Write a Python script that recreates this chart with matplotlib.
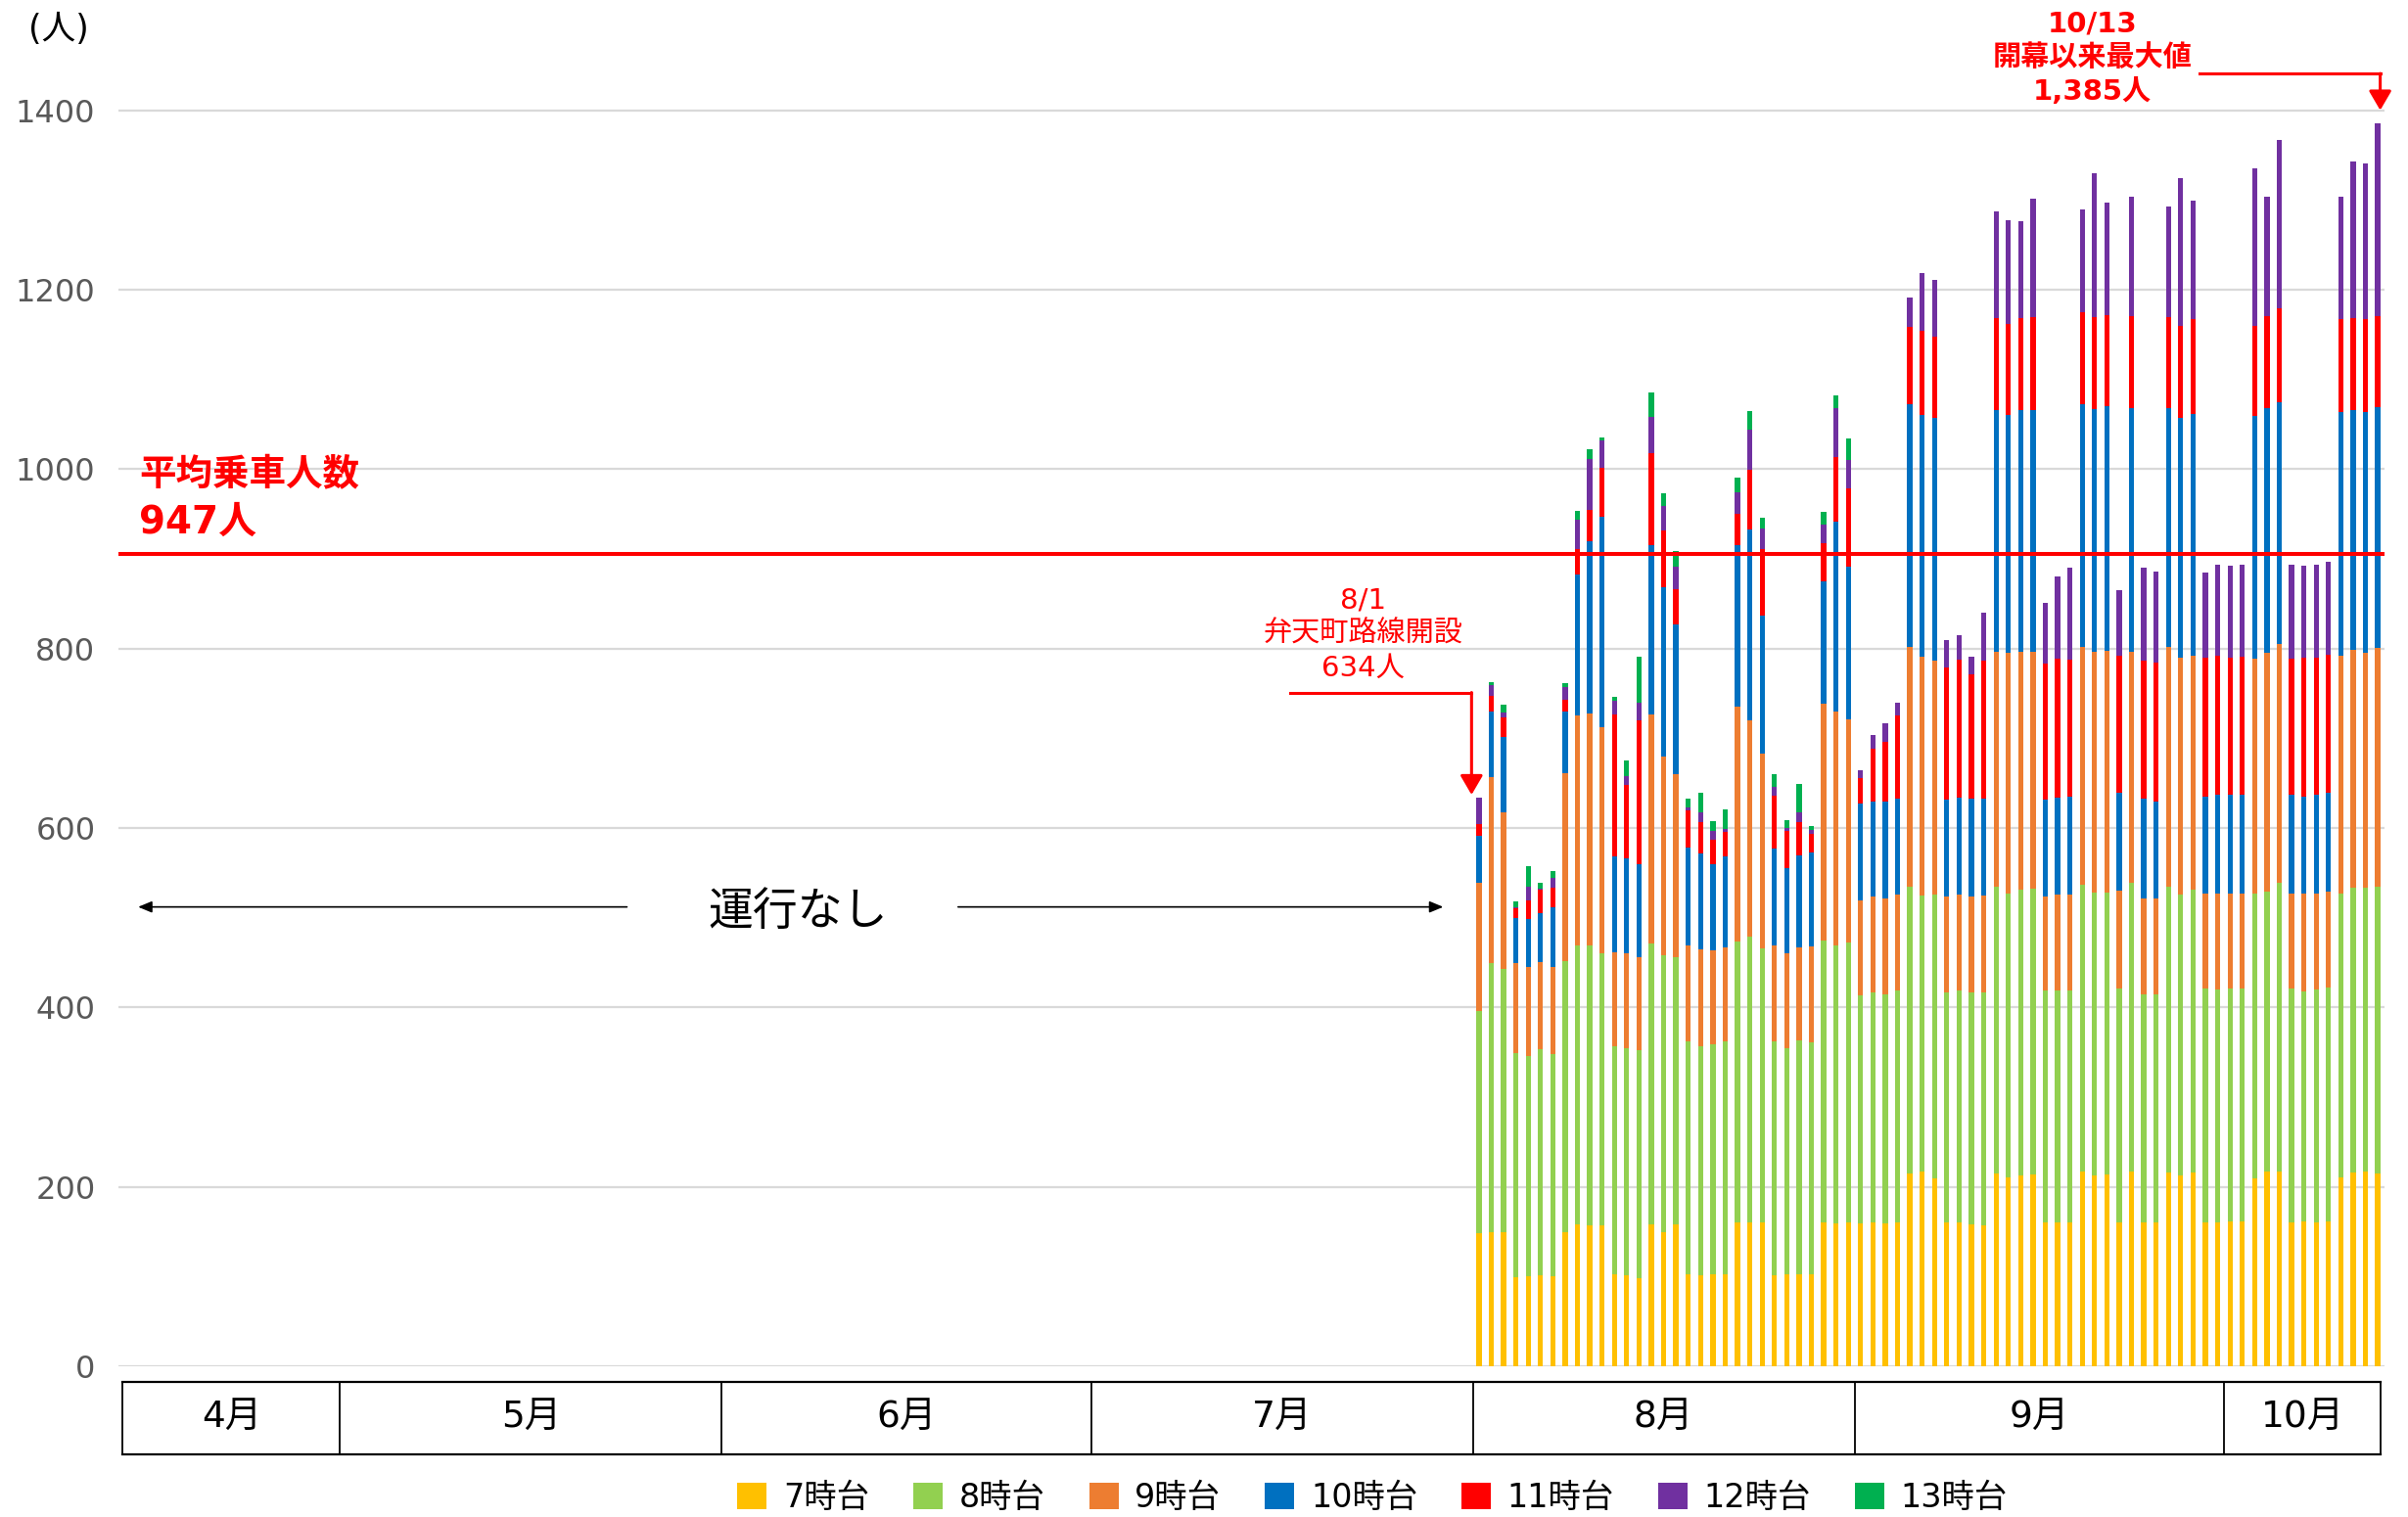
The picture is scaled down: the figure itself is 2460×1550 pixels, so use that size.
import numpy as np
import pandas as pd
import matplotlib
matplotlib.use('Agg')
import matplotlib.pyplot as plt
from matplotlib.patches import Patch

# latin glyphs from DejaVu (wide digits), kanji/kana from Noto CJK
plt.rcParams['font.family'] = ['DejaVu Sans', 'Noto Sans CJK JP']

# daily riders by departure hour, 8/1 - 10/13
first_day = '2023-08-01'
last_day = '2023-10-13'
base_day = pd.Timestamp('2023-04-01')

h07 = [148, 149, 150, 99, 100, 101, 100, 150, 158, 157, 157, 103, 101, 98, 158, 150,
       158, 103, 101, 103, 103, 160, 160, 160, 102, 103, 103, 103, 160, 159, 160,
       159, 160, 159, 160, 215, 217, 210, 160, 160, 158, 157, 215, 211, 213, 214,
       160, 160, 160, 217, 213, 214, 160, 217, 160, 160, 216, 213, 216, 160, 160,
       161, 161, 209, 217, 217, 160, 162, 160, 162, 211, 216, 217, 215]
h08 = [248, 300, 293, 250, 246, 252, 248, 302, 311, 312, 303, 254, 254, 254, 313, 308,
       298, 259, 256, 256, 259, 314, 319, 306, 260, 252, 260, 258, 315, 310, 312,
       255, 257, 256, 259, 320, 308, 316, 257, 259, 259, 260, 320, 316, 318, 318,
       259, 259, 259, 320, 315, 314, 261, 322, 255, 255, 319, 313, 315, 261, 260,
       260, 260, 318, 312, 322, 261, 256, 260, 260, 316, 317, 316, 320]
h09 = [143, 208, 174, 101, 99, 98, 97, 209, 256, 259, 252, 104, 105, 104, 256, 222,
       204, 107, 108, 105, 105, 261, 241, 217, 107, 105, 104, 107, 264, 261, 249,
       105, 107, 106, 107, 267, 266, 261, 107, 107, 107, 108, 261, 268, 265, 264,
       105, 107, 107, 265, 268, 270, 109, 257, 107, 107, 267, 264, 261, 106, 107,
       106, 106, 262, 266, 266, 106, 109, 107, 107, 265, 266, 262, 266]
h10 = [52, 73, 84, 50, 54, 54, 67, 69, 158, 192, 235, 107, 106, 104, 188, 188,
       167, 109, 107, 96, 101, 180, 213, 154, 108, 95, 103, 105, 136, 211, 170,
       108, 106, 109, 107, 270, 269, 270, 108, 108, 109, 108, 270, 265, 270, 270,
       108, 108, 109, 270, 271, 272, 109, 272, 111, 108, 266, 267, 270, 108, 110,
       110, 110, 270, 273, 270, 110, 108, 110, 110, 272, 267, 269, 268]
h11 = [13, 17, 22, 11, 20, 26, 21, 13, 28, 35, 55, 159, 82, 160, 103, 64,
       39, 42, 35, 27, 28, 35, 66, 74, 59, 42, 37, 21, 42, 73, 88,
       29, 58, 66, 93, 87, 94, 91, 147, 154, 138, 154, 102, 102, 102, 103,
       151, 155, 153, 103, 102, 102, 153, 103, 154, 154, 101, 103, 105, 155, 155,
       153, 154, 101, 103, 104, 152, 155, 153, 154, 103, 102, 103, 102]
h12 = [30, 12, 6, 1, 16, 1, 11, 14, 33, 56, 30, 15, 10, 20, 40, 27,
       25, 3, 11, 10, 3, 24, 45, 23, 10, 3, 10, 4, 21, 54, 31,
       8, 16, 21, 14, 32, 65, 63, 30, 27, 20, 53, 119, 116, 108, 133,
       68, 91, 102, 115, 161, 125, 73, 133, 103, 102, 124, 164, 132, 95, 102,
       102, 103, 175, 133, 188, 105, 102, 104, 104, 137, 175, 174, 214]
h13 = [0, 4, 9, 6, 23, 7, 8, 5, 10, 11, 3, 4, 17, 51, 28, 14,
       18, 10, 21, 11, 22, 17, 21, 12, 14, 9, 32, 4, 14, 14, 24] + [0] * 43

series = [h07, h08, h09, h10, h11, h12, h13]
hour_labels = ['7時台', '8時台', '9時台', '10時台', '11時台', '12時台', '13時台']
hour_colors = ['#FFC000', '#92D050', '#ED7D31', '#0070C0', '#FF0000', '#7030A0', '#00B050']

month_labels = ['4月', '5月', '6月', '7月', '8月', '9月', '10月']
month_starts = ['2023-05-01', '2023-06-01', '2023-07-01', '2023-08-01', '2023-09-01', '2023-10-01']
yticks = [0, 200, 400, 600, 800, 1000, 1200, 1400]

avg_line = 905          # where the source draws the average line
avg_title = '平均乗車人数'
avg_value = '947人'

# x as day offset from 4/1
days = (pd.date_range(first_day, last_day) - base_day).days.values
x_lo, x_hi = 11.5, days[-1] + 0.55

fig = plt.figure(figsize=(24.6, 15.5), dpi=100)
ax = fig.add_axes([121 / 2460, 154 / 1550, 2315 / 2460, 1375 / 1550])

bottom = np.zeros(len(days))
for vals, lab, col in zip(series, hour_labels, hour_colors):
    vals = np.array(vals, dtype=float)
    ax.bar(days, vals, width=0.42, bottom=bottom, color=col, label=lab, zorder=2)
    bottom += vals

ax.set_xlim(x_lo, x_hi)
ax.set_ylim(0, 1500)
ax.set_yticks(yticks)
ax.set_yticklabels([str(v) for v in yticks], fontsize=23, color='#595959')
ax.tick_params(axis='y', length=0, pad=17)
ax.set_xticks([])
for s in ax.spines.values():
    s.set_visible(False)
ax.grid(axis='y', color='#D9D9D9', lw=1.6, zorder=0)

# average line
ax.axhline(avg_line, color='red', lw=2.9, zorder=5)
ax.text(13.2, 993, avg_title, color='red', fontsize=27, fontweight='bold',
        ha='left', va='center')
ax.text(13.2, 941, avg_value, color='red', fontsize=28, fontweight='bold',
        ha='left', va='center')

# no service period
ax.text(66.7, 506, '運行なし', fontsize=33, ha='center', va='center')
ax.annotate('', xy=(13.1, 512), xytext=(52.8, 512),
            arrowprops=dict(arrowstyle='-|>,head_width=0.25,head_length=0.6',
                            color='black', lw=1.2, shrinkA=0, shrinkB=0, mutation_scale=14))
ax.annotate('', xy=(119.1, 512), xytext=(79.7, 512),
            arrowprops=dict(arrowstyle='-|>,head_width=0.25,head_length=0.6',
                            color='black', lw=1.2, shrinkA=0, shrinkB=0, mutation_scale=14))

# 8/1 opening
ax.text(112.6, 816, '8/1\n弁天町路線開設\n634人', color='red', fontsize=21,
        ha='center', va='center', linespacing=1.3)
ax.plot([106.7, 121.4], [751, 751], color='red', lw=2.2, zorder=6)
ax.annotate('', xy=(121.4, 637), xytext=(121.4, 751),
            arrowprops=dict(arrowstyle='-|>,head_width=0.35,head_length=0.6',
                            color='red', lw=2.2, shrinkA=0, shrinkB=0, mutation_scale=20),
            zorder=6)

# 10/13 max
ax.text(171.8, 1458, '10/13\n開幕以来最大値\n1,385人', color='red', fontsize=21,
        fontweight='bold', ha='center', va='center', linespacing=1.3)
ax.plot([180.5, 195.2], [1441, 1441], color='red', lw=2.2, zorder=6, clip_on=False)
ax.annotate('', xy=(195.2, 1400), xytext=(195.2, 1441),
            arrowprops=dict(arrowstyle='-|>,head_width=0.35,head_length=0.6',
                            color='red', lw=2.2, shrinkA=0, shrinkB=0, mutation_scale=20),
            zorder=6, annotation_clip=False)

fig.text(60 / 2460, 1 - 30 / 1550, '(人)', fontsize=25, ha='center', va='center')

# month table
tab = fig.add_axes([121 / 2460, 64 / 1550, 2315 / 2460, 74 / 1550])
tab.set_xlim(x_lo, x_hi)
tab.set_ylim(0, 1)
tab.axis('off')
edges = ([x_lo + 0.35] + [(pd.Timestamp(m) - base_day).days - 0.5 for m in month_starts]
         + [x_hi - 0.3])
tab.plot([edges[0], edges[-1]], [1, 1], color='black', lw=1.6, clip_on=False)
tab.plot([edges[0], edges[-1]], [0, 0], color='black', lw=1.6, clip_on=False)
for e in edges:
    tab.plot([e, e], [0, 1], color='black', lw=1.3, clip_on=False)
for i, lab in enumerate(month_labels):
    tab.text((edges[i] + edges[i + 1]) / 2, 0.5, lab, fontsize=27,
             ha='center', va='center')

handles = [Patch(facecolor=c, label=l) for c, l in zip(hour_colors, hour_labels)]
fig.legend(handles=handles, loc='center', bbox_to_anchor=(0.57, 0.0125), ncol=7,
           frameon=False, fontsize=24, handlelength=0.9, handleheight=0.9,
           handletextpad=0.5, columnspacing=1.35)

fig.savefig('out.png', dpi=100)
